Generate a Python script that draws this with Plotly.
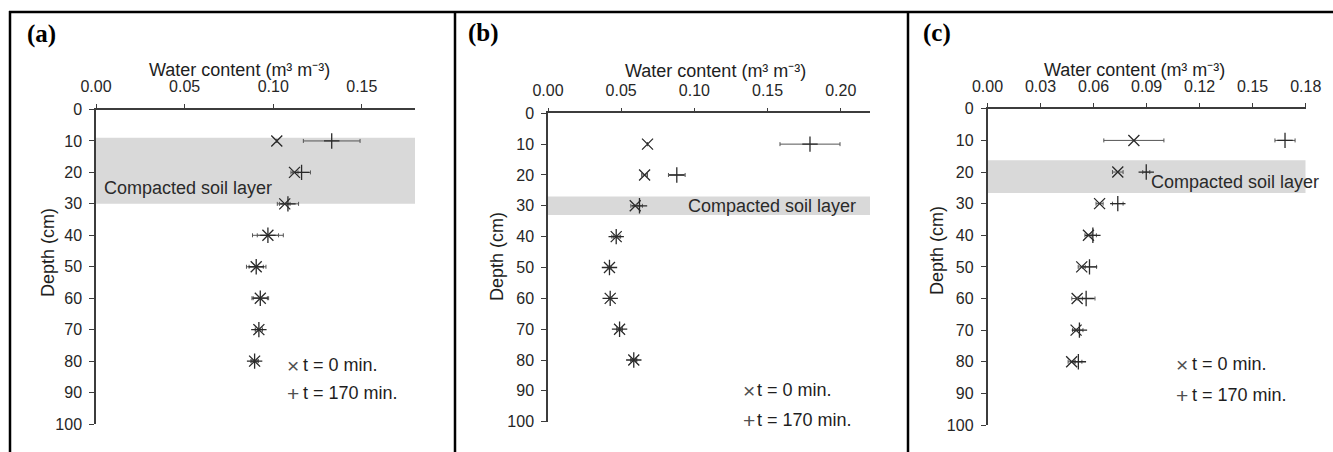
import plotly.graph_objects as go

W, H = 1333, 452

# ---------------- data ----------------
depths = [10, 20, 30, 40, 50, 60, 70, 80]
y_ticks = [0, 10, 20, 30, 40, 50, 60, 70, 80, 90, 100]

a_t0 = [0.102, 0.112, 0.1065, 0.097, 0.0904, 0.0927, 0.0919, 0.0895]
a_t0_err = [0.0, 0.002, 0.003, 0.006, 0.004, 0.004, 0.002, 0.002]
a_t170 = [0.133, 0.116, 0.1083, 0.097, 0.0904, 0.0927, 0.0919, 0.0895]
a_t170_err = [0.016, 0.005, 0.006, 0.0087, 0.0055, 0.0047, 0.002, 0.002]

b_t0 = [0.068, 0.066, 0.0596, 0.0466, 0.042, 0.0425, 0.0489, 0.0586]
b_t0_err = [0.0, 0.002, 0.003, 0.002, 0.001, 0.001, 0.002, 0.002]
b_t170 = [0.179, 0.088, 0.0625, 0.0466, 0.042, 0.0425, 0.0489, 0.0586]
b_t170_err = [0.0205, 0.0057, 0.002, 0.003, 0.001, 0.001, 0.001, 0.002]

c_t0 = [0.0828, 0.0737, 0.0634, 0.0571, 0.0533, 0.0507, 0.0501, 0.0476]
c_t0_err = [0.017, 0.003, 0.002, 0.002, 0.002, 0.003, 0.002, 0.002]
c_t170 = [0.1683, 0.0898, 0.0737, 0.0596, 0.0577, 0.0558, 0.052, 0.0514]
c_t170_err = [0.0057, 0.002, 0.003, 0.002, 0.004, 0.005, 0.002, 0.002]

x_ranges = [[0, 0.18], [0, 0.22], [0, 0.18]]
x_dticks = [0.05, 0.05, 0.03]
bands = [(9, 30), (27, 33), (16.3, 26.6)]
panel_labels = ["(a)", "(b)", "(c)"]
x_title = "Water content (m³ m⁻³)"
y_title = "Depth (cm)"
band_text = "Compacted soil layer"
leg_sym = ["×", "+"]
leg_text = ["t = 0 min.", "t = 170 min."]

# ---------------- layout geometry (pixels) ----------------
def px(x):
    return x / W

def py(y):
    return 1 - y / H

# plot areas: (x_left, x_right, y_top(0 cm), y_bottom(100 cm))
areas = [(96, 415, 109.5, 424), (548, 870, 113.3, 421.7), (987.5, 1305.7, 108.8, 425)]

FONT = "Arial, Liberation Sans, sans-serif"
AX = "#3c3c3c"
TXT = "#1e1e1e"

fig = go.Figure()

series = [(a_t0, a_t0_err, a_t170, a_t170_err),
          (b_t0, b_t0_err, b_t170, b_t170_err),
          (c_t0, c_t0_err, c_t170, c_t170_err)]

for i, (t0, t0e, t170, t170e) in enumerate(series):
    sfx = "" if i == 0 else str(i + 1)
    xa, ya = "x" + sfx, "y" + sfx
    fig.add_trace(go.Scatter(
        x=t0, y=depths, xaxis=xa, yaxis=ya, mode="markers", name=leg_text[0],
        showlegend=False,
        marker=dict(symbol="x-thin", size=11, line=dict(width=1.3, color="#2a2a2a")),
        error_x=dict(type="data", array=t0e, color="#555555", thickness=1, width=2),
    ))
    fig.add_trace(go.Scatter(
        x=t170, y=depths, xaxis=xa, yaxis=ya, mode="markers", name=leg_text[1],
        showlegend=False,
        marker=dict(symbol="cross-thin", size=11, line=dict(width=1.3, color="#2a2a2a")),
        error_x=dict(type="data", array=t170e, color="#555555", thickness=1, width=2),
    ))

layout = dict(
    width=W, height=H, margin=dict(l=0, r=0, t=0, b=0, pad=0, autoexpand=False),
    paper_bgcolor="white", plot_bgcolor="white", showlegend=False,
    font=dict(family=FONT, color=TXT, size=16),
)

for i, (xl, xr, yt, yb) in enumerate(areas):
    sfx = "" if i == 0 else str(i + 1)
    layout["xaxis" + sfx] = dict(
        domain=[px(xl), px(xr)], range=x_ranges[i], side="top", automargin=False,
        anchor="y" + sfx, dtick=x_dticks[i], tick0=0, tickformat=".2f",
        showline=True, linecolor=AX, linewidth=1.5, ticks="outside",
        ticklen=4, tickwidth=1.2, tickcolor=AX, showgrid=False, zeroline=False,
        tickfont=dict(size=16, color="#262626"), ticklabelstandoff=5,
    )
    layout["yaxis" + sfx] = dict(
        domain=[py(yb), py(yt)], range=[100, 0], anchor="x" + sfx, automargin=False,
        tickvals=y_ticks, showline=True, linecolor=AX, linewidth=1.5,
        ticks="outside", ticklen=5, tickwidth=1.2, tickcolor=AX,
        showgrid=False, zeroline=False,
        tickfont=dict(size=16, color="#262626"), ticklabelstandoff=4,
    )

fig.update_layout(**layout)

shapes = []
annotations = []

# shaded compacted layers
for i, (b0, b1) in enumerate(bands):
    sfx = "" if i == 0 else str(i + 1)
    shapes.append(dict(type="rect", xref="x" + sfx, yref="y" + sfx,
                       x0=x_ranges[i][0], x1=x_ranges[i][1], y0=b0, y1=b1,
                       fillcolor="#d9d9d9", line=dict(width=0), layer="below"))

# band labels
annotations.append(dict(x=0.0032, y=24.9, xref="x", yref="y", text=band_text,
                        showarrow=False, xanchor="left", yanchor="middle",
                        font=dict(size=18, color="#2a2a2a")))
annotations.append(dict(x=0.2116, y=30, xref="x2", yref="y2", text=band_text,
                        showarrow=False, xanchor="right", yanchor="middle",
                        font=dict(size=18, color="#2a2a2a")))
annotations.append(dict(x=px(1321), y=py(182.3), xref="paper", yref="paper", text=band_text,
                        showarrow=False, xanchor="right", yanchor="middle",
                        font=dict(size=18, color="#2a2a2a")))

# titles, panel labels, y titles, legends
title_pos = [(240, 70), (715, 71), (1134, 70)]
label_pos = [(25, 34), (466, 33), (921, 33)]
ytitle_pos = [(48, 253), (497, 257), (937, 251)]
# (symbol centre x, text left x, row1 y, row2 y)
leg_pos = [(293, 301, 365, 393), (748.5, 755, 390, 420), (1181.5, 1190, 364, 395)]

for i in range(3):
    tx, ty = title_pos[i]
    annotations.append(dict(x=px(tx), y=py(ty), xref="paper", yref="paper",
                            text=x_title, showarrow=False, xanchor="center",
                            yanchor="middle", font=dict(size=18, color=TXT)))
    lx, ly = label_pos[i]
    annotations.append(dict(x=px(lx), y=py(ly), xref="paper", yref="paper",
                            text="<b>" + panel_labels[i] + "</b>", showarrow=False,
                            xanchor="left", yanchor="middle",
                            font=dict(size=25, color="black",
                                      family="Times New Roman, Liberation Serif, serif")))
    yx, yy = ytitle_pos[i]
    annotations.append(dict(x=px(yx), y=py(yy), xref="paper", yref="paper",
                            text=y_title, showarrow=False, textangle=-90,
                            xanchor="center", yanchor="middle",
                            font=dict(size=18, color=TXT)))
    sx, tx0, r0, r1 = leg_pos[i]
    for k, ry in enumerate((r0, r1)):
        annotations.append(dict(x=px(sx), y=py(ry), xref="paper", yref="paper",
                                text=leg_sym[k], showarrow=False, xanchor="center",
                                yanchor="middle",
                                font=dict(size=21, color="#505050")))
        annotations.append(dict(x=px(tx0), y=py(ry), xref="paper", yref="paper",
                                text=leg_text[k], showarrow=False, xanchor="left",
                                yanchor="middle", font=dict(size=18, color=TXT)))

# panel frame lines
frame = dict(color="black", width=2.5)
shapes.append(dict(type="line", xref="paper", yref="paper", x0=px(9), x1=1,
                   y0=py(12), y1=py(12), line=frame))
for xv in (10, 455, 908):
    shapes.append(dict(type="line", xref="paper", yref="paper", x0=px(xv), x1=px(xv),
                       y0=py(11), y1=0, line=frame))

fig.update_layout(shapes=shapes, annotations=annotations)

post_js = ("document.documentElement.style.margin='0';"
           "document.documentElement.style.overflow='hidden';"
           "document.body.style.margin='0';document.body.style.padding='0';"
           "document.body.style.overflow='hidden';")
fig.write_html("out.html", post_script=post_js, config={"displayModeBar": False})
